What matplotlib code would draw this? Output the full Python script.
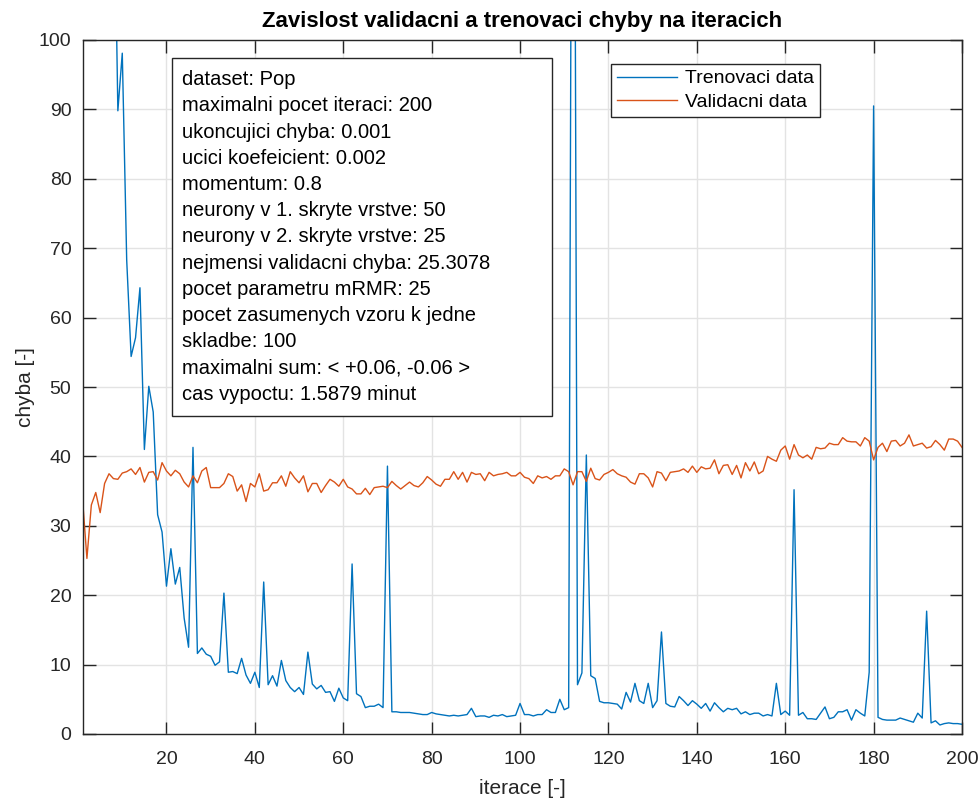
import numpy as np
import matplotlib
matplotlib.use("Agg")
import matplotlib.pyplot as plt
from matplotlib.patches import Rectangle

plt.rcParams['font.family'] = ['Liberation Sans', 'DejaVu Sans']

iterace = np.arange(1, 201)

# chyba na trenovacich datech (iterace 1..200)
trenovaci = [
    250, 215, 190, 170, 160, 150, 140, 130, 89.8, 98.1,
    68.3, 54.4, 57.1, 64.3, 41.0, 50.1, 46.4, 31.6, 29.1, 21.3,
    26.7, 21.6, 24.0, 16.7, 12.5, 41.3, 11.6, 12.4, 11.5, 11.2,
    9.9, 10.4, 20.3, 8.9, 9.0, 8.7, 10.9, 8.5, 7.3, 8.9,
    6.7, 21.9, 7.1, 8.4, 6.9, 10.6, 7.7, 6.7, 6.1, 6.7,
    5.7, 11.8, 7.2, 6.5, 7.0, 6.0, 6.1, 4.7, 6.6, 5.2,
    4.8, 24.5, 5.8, 5.4, 3.8, 4.0, 4.0, 4.3, 3.8, 38.6,
    3.2, 3.2, 3.1, 3.1, 3.1, 3.0, 2.9, 2.8, 2.8, 3.1,
    2.9, 2.8, 2.7, 2.6, 2.7, 2.6, 2.7, 2.8, 3.7, 2.5,
    2.6, 2.6, 2.4, 2.7, 2.6, 2.8, 2.5, 2.6, 2.7, 4.4,
    2.8, 2.8, 2.6, 2.8, 2.8, 3.5, 3.1, 3.1, 5.0, 3.5,
    3.8, 200, 7.1, 8.8, 40.2, 8.4, 8.0, 4.7, 4.5, 4.5,
    4.4, 4.3, 3.6, 6.0, 4.6, 7.3, 4.8, 4.4, 7.3, 3.8,
    4.8, 14.7, 4.4, 4.0, 3.9, 5.4, 4.8, 4.1, 4.8, 4.3,
    3.7, 4.4, 3.3, 4.5, 3.8, 3.2, 3.7, 3.5, 3.7, 2.9,
    3.2, 2.8, 3.0, 3.0, 2.6, 2.8, 2.6, 7.3, 2.8, 3.3,
    2.7, 35.2, 2.7, 3.1, 2.2, 2.2, 2.1, 3.0, 3.9, 2.2,
    2.4, 3.2, 3.2, 3.5, 2.0, 3.5, 3.0, 2.6, 8.9, 90.5,
    2.4, 2.1, 2.0, 2.0, 2.0, 2.3, 2.1, 1.9, 1.7, 3.0,
    2.3, 17.7, 1.6, 1.9, 1.3, 1.5, 1.6, 1.5, 1.5, 1.4,
]

# chyba na validacnich datech (iterace 1..200)
validacni = [
    33.9, 25.3, 33.0, 34.8, 31.9, 36.1, 37.5, 36.8, 36.7, 37.6,
    37.8, 38.2, 37.4, 38.4, 36.3, 37.7, 37.8, 36.6, 39.1, 37.9,
    37.2, 38.0, 37.5, 36.3, 35.6, 37.2, 36.2, 37.9, 38.4, 35.5,
    35.5, 35.5, 36.1, 37.5, 37.1, 35.0, 35.9, 33.5, 36.1, 35.6,
    37.5, 35.0, 35.2, 36.2, 36.2, 37.2, 35.7, 37.8, 36.9, 36.2,
    37.2, 34.9, 36.1, 36.1, 34.8, 35.8, 36.7, 36.3, 35.7, 36.7,
    35.6, 35.3, 34.6, 34.6, 35.4, 34.5, 35.5, 35.6, 35.7, 35.5,
    36.4, 35.8, 35.3, 35.8, 36.3, 35.8, 35.6, 36.2, 37.1, 36.6,
    36.0, 35.7, 36.7, 36.7, 37.8, 36.7, 37.7, 36.3, 37.7, 37.4,
    37.5, 36.5, 37.7, 37.2, 37.4, 37.5, 37.7, 37.2, 37.2, 37.7,
    37.0, 36.8, 36.1, 37.2, 36.9, 37.1, 36.7, 37.2, 37.2, 38.2,
    37.8, 35.9, 37.8, 37.8, 36.4, 38.3, 36.8, 36.6, 37.4, 37.7,
    38.1, 37.5, 37.2, 37.0, 36.3, 36.0, 37.5, 37.5, 36.9, 35.6,
    37.8, 37.6, 36.5, 37.7, 37.8, 37.9, 38.2, 37.7, 38.6, 37.7,
    38.5, 38.2, 38.3, 39.5, 37.5, 38.7, 38.8, 37.4, 38.7, 36.9,
    39.1, 37.9, 39.2, 37.5, 37.9, 40.0, 39.6, 39.3, 40.9, 41.5,
    39.6, 41.7, 40.2, 39.8, 40.2, 39.6, 41.3, 41.1, 41.2, 41.9,
    41.7, 41.7, 42.7, 42.2, 42.1, 42.1, 41.5, 42.7, 42.2, 39.5,
    41.3, 41.9, 40.7, 42.2, 42.3, 41.5, 41.9, 43.1, 41.5, 41.7,
    41.9, 41.2, 41.4, 42.3, 41.7, 40.9, 42.5, 42.5, 42.2, 41.3,
]

popis = [
    "dataset: Pop",
    "maximalni pocet iteraci: 200",
    "ukoncujici chyba: 0.001",
    "ucici koefeicient: 0.002",
    "momentum: 0.8",
    "neurony v 1. skryte vrstve: 50",
    "neurony v 2. skryte vrstve: 25",
    "nejmensi validacni chyba: 25.3078",
    "pocet parametru mRMR: 25",
    "pocet zasumenych vzoru k jedne",
    "skladbe: 100",
    "maximalni sum: < +0.06, -0.06 >",
    "cas vypoctu: 1.5879 minut",
]

modra = "#0072BD"
oranzova = "#D95319"
osa = "#262626"

fig = plt.figure(figsize=(9.8, 7.98), dpi=100)
ax = fig.add_axes([82.5 / 980, 64 / 798, 879.5 / 980, 694 / 798])

ax.plot(iterace, trenovaci, color=modra, lw=1.0, label="Trenovaci data")
ax.plot(iterace, validacni, color=oranzova, lw=1.0, label="Validacni data")

ax.set_xlim(1, 200)
ax.set_ylim(0, 100)
ax.set_xticks(np.arange(20, 201, 20))
ax.set_yticks(np.arange(0, 101, 10))
ax.grid(True, color="#e3e3e3", lw=1.0)
ax.set_axisbelow(True)
ax.tick_params(direction="in", length=9, width=1, colors=osa, labelsize=14,
               top=True, right=True, pad=8)
ax.tick_params(axis="x", pad=12)
for s in ax.spines.values():
    s.set_color(osa)
    s.set_linewidth(1.0)

ax.set_title("Zavislost validacni a trenovaci chyby na iteracich",
             fontsize=16, fontweight="bold", pad=9)
ax.set_xlabel("iterace [-]", fontsize=15, color=osa, labelpad=8)
ax.set_ylabel("chyba [-]", fontsize=15, color=osa, labelpad=3)

# textovy box s parametry site
ax.add_patch(Rectangle((89.5 / 879.5, 318 / 694), 380 / 879.5, 358 / 694,
                       transform=ax.transAxes, fill=True, facecolor="white",
                       edgecolor=osa, lw=1.0, zorder=5))
for k, radek in enumerate(popis):
    ax.text(100 / 879.5, (734 - 85 - 26.25 * k) / 694, radek,
            transform=ax.transAxes, fontsize=14.5, va="baseline", ha="left",
            color="black", zorder=6)

leg = ax.legend(loc="upper left", bbox_to_anchor=(528.5 / 879.5, 670 / 694),
                fontsize=14, frameon=True, fancybox=False, framealpha=1,
                edgecolor=osa, handlelength=3.1, handletextpad=0.4,
                labelspacing=0.32, borderpad=0.3, borderaxespad=0)
leg.get_frame().set_linewidth(1.0)

fig.savefig("out.png", dpi=100)
